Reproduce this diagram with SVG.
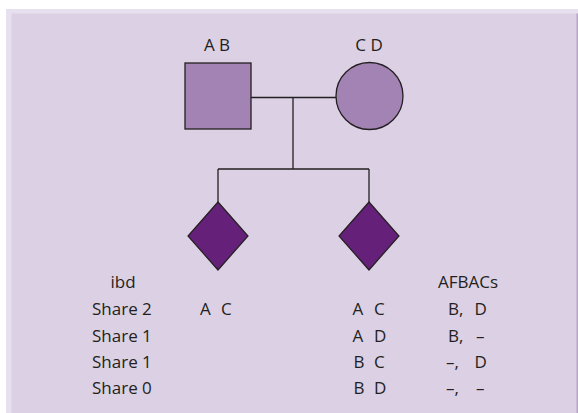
<svg xmlns="http://www.w3.org/2000/svg" width="578" height="413" viewBox="0 0 578 413">
<style>
text{font-family:"Open Sans","Noto Sans",sans-serif;font-size:17px;fill:#231f20}
.ln{stroke:#231f20;stroke-width:1.3;fill:none}
.par{fill:#a383b4;stroke:#231f20;stroke-width:1.3}
.kid{fill:#65207a;stroke:#231f20;stroke-width:1.2}
</style>
<rect x="0" y="0" width="578" height="413" fill="#ffffff"/>
<rect x="6" y="9" width="572" height="404" fill="#e7e0ee"/>
<rect x="11.5" y="13.5" width="566" height="400" fill="#dbd0e4"/>
<rect x="576.5" y="13.5" width="1.5" height="400" fill="#b7a5c8"/>
<g id="connectors">
<line class="ln" x1="251" y1="97.5" x2="336" y2="97.5"/>
<line class="ln" x1="293" y1="97.5" x2="293" y2="169"/>
<line class="ln" x1="218" y1="169" x2="369" y2="169"/>
<line class="ln" x1="218" y1="169" x2="218" y2="202"/>
<line class="ln" x1="369" y1="169" x2="369" y2="202"/>
</g>
<g id="father">
<rect class="par" x="185" y="63" width="66" height="66"/>
<text x="217" y="51" text-anchor="middle">A B</text>
</g>
<g id="mother">
<circle class="par" cx="369.5" cy="96" r="33.5"/>
<text x="369" y="51" text-anchor="middle">C D</text>
</g>
<g id="child1">
<polygon class="kid" points="218,202 248,236 218,270 188,236"/>
</g>
<g id="child2">
<polygon class="kid" points="369,202 399,236 369,270 339,236"/>
</g>
<g id="table">
<text x="123" y="288" text-anchor="middle">ibd</text>
<text x="468" y="288" text-anchor="middle">AFBACs</text>
<text x="92" y="315">Share 2</text>
<text x="92" y="341.5">Share 1</text>
<text x="92" y="367.5">Share 1</text>
<text x="92" y="394">Share 0</text>
<text y="315"><tspan x="200">A</tspan><tspan x="221">C</tspan></text>
<text y="315"><tspan x="352.5">A</tspan><tspan x="374">C</tspan></text>
<text y="341.5"><tspan x="352.5">A</tspan><tspan x="374">D</tspan></text>
<text y="367.5"><tspan x="353.5">B</tspan><tspan x="374">C</tspan></text>
<text y="394"><tspan x="353.5">B</tspan><tspan x="374">D</tspan></text>
<text y="315"><tspan x="448">B,</tspan><tspan x="474.5">D</tspan></text>
<text y="341.5"><tspan x="448">B,</tspan><tspan x="476">–</tspan></text>
<text y="367.5"><tspan x="446">–,</tspan><tspan x="474.5">D</tspan></text>
<text y="394"><tspan x="446">–,</tspan><tspan x="476">–</tspan></text>
</g>
</svg>
